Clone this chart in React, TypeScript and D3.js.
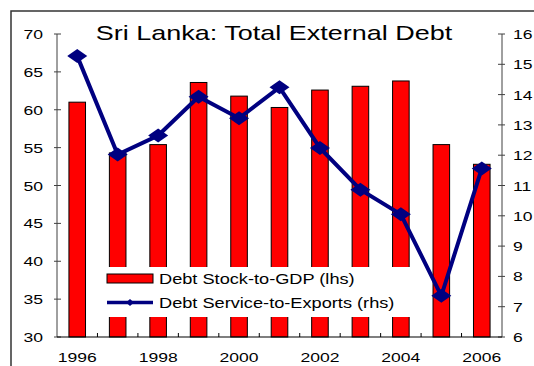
import React from 'react';
import * as d3 from 'd3';

const years = ['1996','1997','1998','1999','2000','2001','2002','2003','2004','2005','2006'];
const debtStockToGDP = [61.0, 54.3, 55.4, 63.6, 61.8, 60.3, 62.6, 63.1, 63.8, 55.4, 52.8];
const debtServiceToExports = [15.27, 12.02, 12.65, 13.93, 13.22, 14.24, 12.24, 10.86, 10.05, 7.36, 11.56];
const leftTicks = [30, 35, 40, 45, 50, 55, 60, 65, 70];
const rightTicks = [6, 7, 8, 9, 10, 11, 12, 13, 14, 15, 16];
const xLabels = ['1996', '1998', '2000', '2002', '2004', '2006'];
const title = 'Sri Lanka: Total External Debt';
const legendLabels = ['Debt Stock-to-GDP (lhs)', 'Debt Service-to-Exports (rhs)'];

const W = 534, H = 366;
const M = { left: 57, right: 502, top: 34, bottom: 337 };
const SX = 1.3;
const FONT = 'Arial, "Liberation Sans", sans-serif';

function SText({ x, y, size, anchor = 'start', children, sx = SX }: any) {
  return (
    <text
      transform={`translate(${x},${y}) scale(${sx},1)`}
      fontSize={size}
      fontFamily={FONT}
      textAnchor={anchor}
      fill="#000"
    >
      {children}
    </text>
  );
}

export default function App() {
  const x = d3.scaleBand<string>().domain(years).range([M.left, M.right]).paddingInner(0).paddingOuter(0);
  const yL = d3.scaleLinear().domain([30, 70]).range([M.bottom, M.top]);
  const yR = d3.scaleLinear().domain([6, 16]).range([M.bottom, M.top]);
  const bw = x.bandwidth() * 0.41;
  const cx = (d: string) => (x(d) as number) + x.bandwidth() / 2;

  const line = d3.line<number>()
    .x((_, i) => cx(years[i]))
    .y((d) => yR(d));

  const diamond = (px: number, py: number, hw: number, hh: number) =>
    `M${px - hw},${py}L${px},${py - hh}L${px + hw},${py}L${px},${py + hh}Z`;

  const axisColor = '#404040';

  return (
    <svg width={W} height={H} style={{ position: 'absolute', left: 0, top: 0, background: '#fff' }}>
      <rect x={0} y={0} width={W} height={H} fill="#fff" />
      {/* outer frame */}
      <rect x={11} y={11} width={W + 20} height={H + 20} fill="none" stroke="#333" strokeWidth={1.5} />

      {/* title */}
      <SText x={274} y={39.5} size={20} anchor="middle" sx={1.35}>{title}</SText>

      {/* bars */}
      {years.map((yr, i) => (
        <rect
          key={yr}
          x={cx(yr) - bw / 2}
          y={yL(debtStockToGDP[i])}
          width={bw}
          height={yL(30) - yL(debtStockToGDP[i])}
          fill="#ff0000"
          stroke="#000"
          strokeWidth={1}
        />
      ))}

      {/* left axis */}
      <line x1={M.left} x2={M.left} y1={M.top} y2={M.bottom} stroke={axisColor} strokeWidth={1} />
      {leftTicks.map((t) => (
        <g key={'l' + t}>
          <line x1={M.left - 3} x2={M.left + 4} y1={yL(t)} y2={yL(t)} stroke={axisColor} strokeWidth={1} />
          <SText x={43} y={yL(t) + 5} size={13.5} anchor="end">{t}</SText>
        </g>
      ))}

      {/* right axis */}
      <line x1={M.right} x2={M.right} y1={M.top} y2={M.bottom} stroke={axisColor} strokeWidth={1} />
      {rightTicks.map((t) => (
        <g key={'r' + t}>
          <line x1={M.right - 4} x2={M.right + 3} y1={yR(t)} y2={yR(t)} stroke={axisColor} strokeWidth={1} />
          <SText x={513} y={yR(t) + 5} size={13.5} anchor="start">{t}</SText>
        </g>
      ))}

      {/* x axis */}
      <line x1={M.left} x2={M.right} y1={M.bottom} y2={M.bottom} stroke="#000" strokeWidth={1.2} />
      {years.slice(1).map((yr) => (
        <line key={'xt' + yr} x1={x(yr) as number} x2={x(yr) as number} y1={M.bottom} y2={M.bottom - 4} stroke="#000" strokeWidth={1} />
      ))}
      {xLabels.map((yr) => (
        <SText key={'xl' + yr} x={cx(yr)} y={362} size={13.5} anchor="middle">{yr}</SText>
      ))}

      {/* legend */}
      <rect x={97} y={267} width={320} height={50} fill="#fff" />
      <rect x={107} y={274} width={46} height={9} fill="#ff0000" stroke="#000" strokeWidth={1} />
      <SText x={159} y={284} size={14} anchor="start">{legendLabels[0]}</SText>
      <line x1={107} x2={153} y1={302.5} y2={302.5} stroke="#000080" strokeWidth={3.5} />
      <path d={diamond(130, 302.5, 4, 3.5)} fill="#000080" />
      <SText x={159} y={308} size={14} anchor="start">{legendLabels[1]}</SText>

      {/* line series */}
      <path d={line(debtServiceToExports) || ''} fill="none" stroke="#000080" strokeWidth={4} strokeLinejoin="miter" />
      {debtServiceToExports.map((v, i) => (
        <path key={'m' + i} d={diamond(cx(years[i]), yR(v), 10, 7)} fill="#000080" />
      ))}
    </svg>
  );
}
